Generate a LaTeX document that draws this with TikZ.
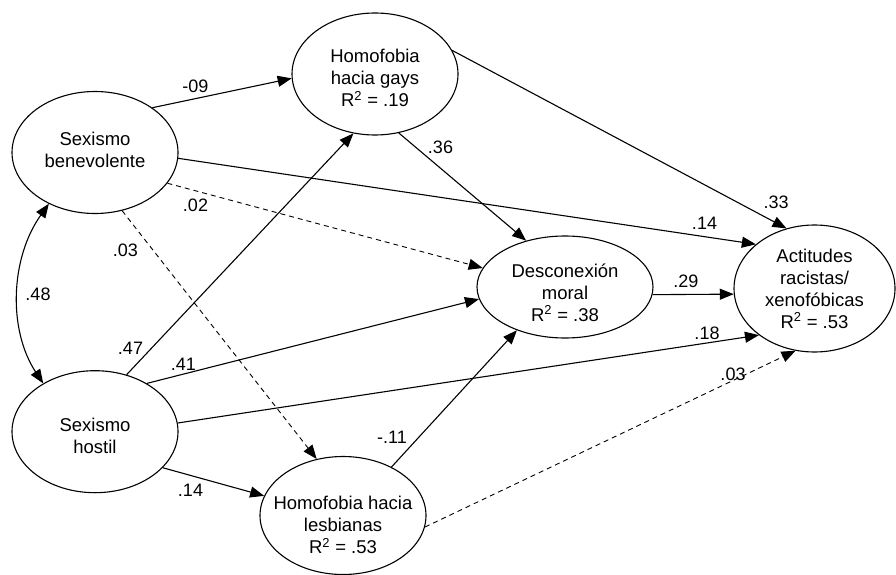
\documentclass[tikz,border=0pt]{standalone}
\usepackage{fontspec}
\setmainfont{Liberation Sans}
\usetikzlibrary{arrows.meta,shapes.geometric}
\begin{document}
\begin{tikzpicture}[x=1pt,y=-1pt,
  ell/.style={ellipse, draw, line width=1.1pt, inner sep=0pt},
  txt/.style={inner sep=0pt, font=\fontsize{18.5}{22}\selectfont},
  lab/.style={inner sep=0pt, font=\fontsize{18}{22}\selectfont},
  arr/.style={line width=1.1pt, -{Triangle[length=14pt,width=11pt]}},
  darr/.style={line width=0.9pt, dash pattern=on 5pt off 4pt, -{Triangle[length=14pt,width=11pt]}},
  barr/.style={line width=1.1pt, {Triangle[length=14pt,width=11pt]}-{Triangle[length=14pt,width=11pt]}}
]
\useasboundingbox (0,0) rectangle (896,575);

% ellipses
\node[ell, minimum width=166pt, minimum height=122pt] (ben) at (95,152.5) {};
\node[ell, minimum width=166pt, minimum height=122pt] (hos) at (95,431.7) {};
\node[ell, minimum width=166pt, minimum height=122pt] (gay) at (375,74) {};
\node[ell, minimum width=176pt, minimum height=102pt] (des) at (565,287) {};
\node[ell, minimum width=161pt, minimum height=127pt] (act) at (814.5,288.5) {};
\node[ell, minimum width=166pt, minimum height=118pt] (les) at (343,515.5) {};

% texts
\node[txt] (benT) at (ben.center) {\begin{tabular}{@{}c@{}}Sexismo\\benevolente\end{tabular}};
\node[txt] (hosT) at ([yshift=-6.3pt]hos.center) {\begin{tabular}{@{}c@{}}Sexismo\\hostil\end{tabular}};
\node[txt] (gayT) at ([yshift=-6.6pt]gay.center) {\begin{tabular}{@{}c@{}}Homofobia\\hacia gays\\R\textsuperscript{2} = .19\end{tabular}};
\node[txt] (desT) at ([yshift=-7.6pt]des.center) {\begin{tabular}{@{}c@{}}Desconexión\\moral\\R\textsuperscript{2} = .38\end{tabular}};
\node[txt] (actT) at ([yshift=-2.3pt]act.center) {\begin{tabular}{@{}c@{}}Actitudes\\racistas/\\xenofóbicas\\R\textsuperscript{2} = .53\end{tabular}};
\node[txt] (lesT) at ([yshift=-11.5pt]les.center) {\begin{tabular}{@{}c@{}}Homofobia hacia\\lesbianas\\R\textsuperscript{2} = .53\end{tabular}};

% paths
\draw[arr]  (ben.38)   -- (gay.183);
\draw[arr]  (ben.-4.8) -- (act.143.5);
\draw[darr] (ben.-23.3) -- (des.167);
\draw[darr] (ben.-65.4) -- (les.115.4);
\draw[arr]  (hos.61.1) -- (gay.250.7);
\draw[arr]  (hos.43.3) -- (des.188.5);
\draw[arr]  (hos.6.9)  -- (act.220.7);
\draw[arr]  (hos.-28.3) -- (les.166.6);
\draw[arr]  (gay.-68.4) -- (des.130.4);
\draw[arr]  (gay.17.1) -- (act.115.9);
\draw[arr]  (des.-5.3) -- (act.184.6);
\draw[arr]  (les.45)   -- (des.222);
\draw[darr] (les.-8.8) -- (act.253.6);
\draw[barr] (ben.228) .. controls +(-39,55) and +(-35,-53) .. (hos.137);

% labels
\node[lab] (l1)  at (195.5,86.7)  {-09};
\node[lab] (l2)  at (195.5,205.5) {.02};
\node[lab] (l3)  at (125.3,250.5) {.03};
\node[lab] (l4)  at (440.5,147.8) {.36};
\node[lab] (l5)  at (776,202)     {.33};
\node[lab] (l6)  at (704.5,223.7) {.14};
\node[lab] (l7)  at (685.8,281)   {.29};
\node[lab] (l8)  at (707,333)     {.18};
\node[lab] (l9)  at (733,374)     {.03};
\node[lab] (l10) at (38,294)      {.48};
\node[lab] (l11) at (130.5,348.3) {.47};
\node[lab] (l12) at (183.3,364.5) {.41};
\node[lab] (l13) at (392,437.5)   {-.11};
\node[lab] (l14) at (190.5,490)   {.14};
\end{tikzpicture}
\end{document}
